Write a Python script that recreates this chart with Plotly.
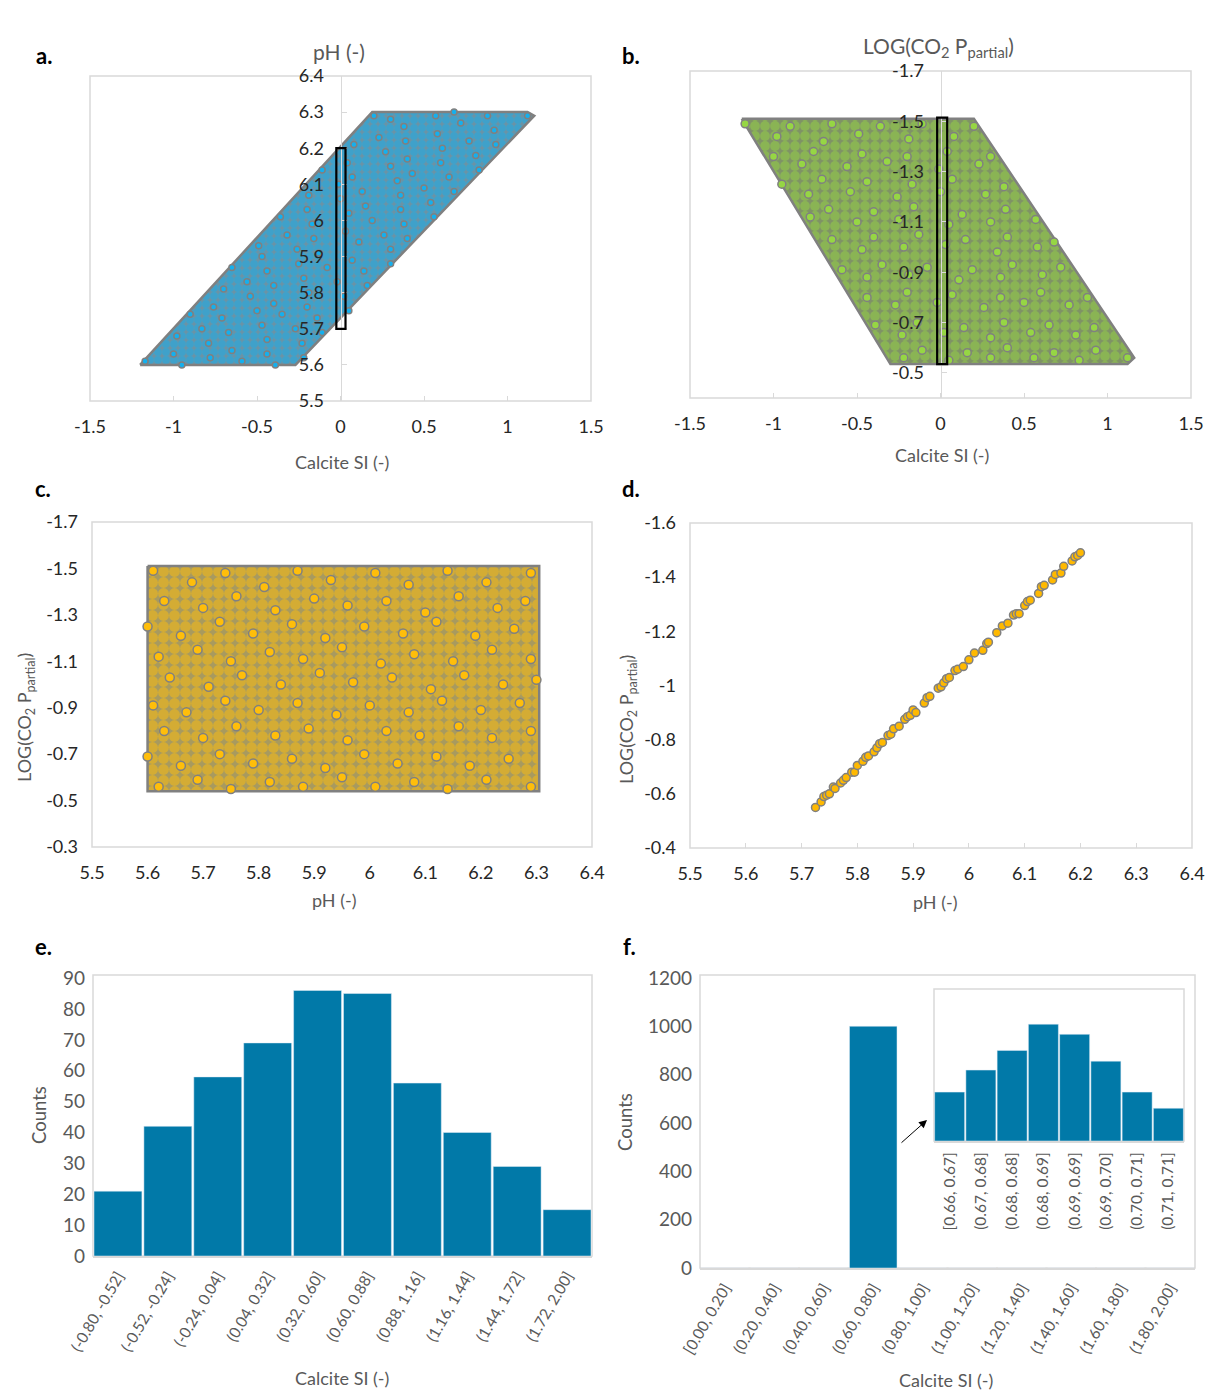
import plotly.graph_objects as go

W, H = 1215, 1393
FONT = "Lato"
DARK = "#262626"
GRAY = "#595959"
FRAME = "#d9d9d9"
BAR = "#0179a8"
DOT_EDGE = "#808080"

# Shared sample readings (panels a, b, c)
ph_samples = [5.61,5.68,5.74,5.81,5.87,5.93,6.01,6.07,6.14,6.21,6.29,
              5.63,5.70,5.76,5.83,5.90,5.96,6.03,6.10,6.16,6.23,6.28,
              5.60,5.66,5.73,5.79,5.86,5.92,5.99,6.06,6.12,6.19,6.26,
              5.62,5.69,5.75,5.82,5.88,5.95,6.02,6.08,6.15,6.22,6.29,
              5.64,5.71,5.77,5.84,5.91,5.97,6.04,6.11,6.17,6.24,6.30,
              5.61,5.67,5.74,5.80,5.87,5.94,6.00,6.07,6.13,6.20,6.27,
              5.63,5.70,5.76,5.83,5.89,5.96,6.03,6.09,6.16,6.22,6.29,
              5.60,5.66,5.73,5.79,5.86,5.92,5.99,6.05,6.12,6.18,6.25,
              5.62,5.69,5.75,5.82,5.88,5.95,6.01,6.08,6.14,6.21,6.29]
co2_samples = [-1.49,-1.44,-1.48,-1.42,-1.49,-1.45,-1.48,-1.43,-1.49,-1.44,-1.48,
               -1.36,-1.33,-1.38,-1.32,-1.37,-1.34,-1.36,-1.31,-1.38,-1.33,-1.36,
               -1.25,-1.21,-1.27,-1.22,-1.26,-1.20,-1.25,-1.22,-1.27,-1.21,-1.24,
               -1.12,-1.15,-1.10,-1.14,-1.11,-1.16,-1.09,-1.13,-1.10,-1.15,-1.11,
               -1.03,-0.99,-1.04,-1.00,-1.05,-1.01,-1.03,-0.98,-1.04,-1.00,-1.02,
               -0.91,-0.88,-0.93,-0.89,-0.92,-0.87,-0.91,-0.88,-0.93,-0.89,-0.92,
               -0.80,-0.77,-0.82,-0.78,-0.81,-0.76,-0.80,-0.78,-0.82,-0.77,-0.80,
               -0.69,-0.65,-0.70,-0.66,-0.68,-0.64,-0.70,-0.66,-0.69,-0.65,-0.68,
               -0.56,-0.59,-0.55,-0.58,-0.56,-0.60,-0.56,-0.58,-0.55,-0.59,-0.56]
si_samples = [-1.17,-0.98,-0.90,-0.70,-0.65,-0.49,-0.36,-0.19,-0.11,0.08,0.20,
              -1.00,-0.83,-0.76,-0.56,-0.47,-0.32,-0.20,-0.01,0.04,0.23,0.30,
              -0.95,-0.79,-0.71,-0.54,-0.44,-0.26,-0.17,0.00,0.07,0.27,0.38,
              -0.78,-0.67,-0.50,-0.40,-0.25,-0.16,0.05,0.13,0.30,0.39,0.57,
              -0.65,-0.47,-0.40,-0.22,-0.13,0.03,0.15,0.34,0.40,0.58,0.68,
              -0.59,-0.44,-0.35,-0.19,-0.08,0.11,0.19,0.36,0.43,0.61,0.72,
              -0.44,-0.27,-0.20,-0.02,0.07,0.26,0.36,0.50,0.60,0.77,0.88,
              -0.39,-0.23,-0.14,0.02,0.14,0.30,0.38,0.54,0.65,0.81,0.92,
              -0.22,-0.11,0.05,0.16,0.30,0.40,0.56,0.68,0.83,0.93,1.12]

# Outlines of the dense clouds
a_edge_si = [-1.2, -0.27, 1.16, 1.12, 0.19, -1.2]
a_edge_ph = [5.6, 5.6, 6.29, 6.3, 6.3, 5.6]
b_edge_si = [-1.19, 0.2, 1.16, 1.12, -0.3, -1.19]
b_edge_co2 = [-1.51, -1.51, -0.56, -0.535, -0.535, -1.51]
c_edge_ph = [5.6, 6.305, 6.305, 5.6, 5.6]
c_edge_co2 = [-1.51, -1.51, -0.54, -0.54, -1.51]

# Panel d
ph_d = [5.725,5.735,5.74,5.745,5.75,5.757,5.76,5.77,5.775,5.78,5.79,5.795,5.80,5.81,5.815,5.82,
        5.83,5.835,5.84,5.845,5.855,5.86,5.865,5.875,5.885,5.89,5.895,5.90,5.905,5.92,5.925,5.93,
        5.945,5.95,5.955,5.96,5.965,5.975,5.98,5.99,6.00,6.01,6.025,6.032,6.035,
        6.05,6.06,6.07,6.08,6.085,6.09,6.10,6.105,6.11,6.125,6.13,6.135,6.15,6.155,6.165,6.17,
        6.185,6.19,6.195,6.20]
co2_d = [-0.55,-0.57,-0.59,-0.595,-0.60,-0.625,-0.62,-0.64,-0.65,-0.66,-0.68,-0.68,-0.705,-0.72,-0.735,-0.74,
         -0.755,-0.77,-0.785,-0.79,-0.815,-0.82,-0.84,-0.85,-0.875,-0.885,-0.89,-0.91,-0.90,-0.935,-0.955,-0.96,
         -0.99,-0.995,-1.01,-1.025,-1.03,-1.055,-1.06,-1.07,-1.095,-1.12,-1.13,-1.155,-1.16,
         -1.195,-1.22,-1.23,-1.26,-1.265,-1.265,-1.295,-1.31,-1.315,-1.34,-1.365,-1.37,-1.39,-1.41,-1.415,-1.44,
         -1.46,-1.475,-1.48,-1.49]

# Histograms
e_bins = ["(-0.80, -0.52]","(-0.52, -0.24]","(-0.24, 0.04]","(0.04, 0.32]","(0.32, 0.60]",
          "(0.60, 0.88]","(0.88, 1.16]","(1.16, 1.44]","(1.44, 1.72]","(1.72, 2.00]"]
e_counts = [21, 42, 58, 69, 86, 85, 56, 40, 29, 15]
f_bins = ["[0.00, 0.20]","(0.20, 0.40]","(0.40, 0.60]","(0.60, 0.80]","(0.80, 1.00]",
          "(1.00, 1.20]","(1.20, 1.40]","(1.40, 1.60]","(1.60, 1.80]","(1.80, 2.00]"]
f_counts = [0, 0, 0, 1000, 0, 0, 0, 0, 0, 0]
inset_bins = ["[0.66, 0.67]","(0.67, 0.68]","(0.68, 0.68]","(0.68, 0.69]",
              "(0.69, 0.69]","(0.69, 0.70]","(0.70, 0.71]","(0.71, 0.71]"]
inset_counts = [82, 119, 152, 196, 179, 134, 82, 55]

si_ticks = [-1.5, -1, -0.5, 0, 0.5, 1, 1.5]
ph_ticks = [5.5, 5.6, 5.7, 5.8, 5.9, 6, 6.1, 6.2, 6.3, 6.4]
co2_ticks = [-1.7, -1.5, -1.3, -1.1, -0.9, -0.7, -0.5]
co2_ticks_c = [-1.7, -1.5, -1.3, -1.1, -0.9, -0.7, -0.5, -0.3]
co2_ticks_d = [-1.6, -1.4, -1.2, -1, -0.8, -0.6, -0.4]
e_ticks = [0, 10, 20, 30, 40, 50, 60, 70, 80, 90]
f_ticks = [0, 200, 400, 600, 800, 1000, 1200]


def px(x):
    return x / W


def py(y):
    return 1 - y / H


fig = go.Figure()
layout = {}
shapes = []
annots = []


def axes(n, box, xcfg, ycfg):
    x0, y0, x1, y1 = box
    sx = "" if n == 1 else str(n)
    base = dict(showgrid=False, zeroline=False, color=GRAY)
    layout["xaxis" + sx] = {**base, "domain": [px(x0), px(x1)], "anchor": "y" + sx, **xcfg}
    layout["yaxis" + sx] = {**base, "domain": [py(y1), py(y0)], "anchor": "x" + sx, **ycfg}
    shapes.append(dict(type="rect", xref=f"x{sx} domain", yref=f"y{sx} domain",
                       x0=0, x1=1, y0=0, y1=1, line=dict(color=FRAME, width=1.5), layer="below"))


def num_axis(vals, rng, color=DARK, size=18, standoff=13, **kw):
    d = dict(range=rng, tickmode="array", tickvals=vals, ticktext=[str(v) for v in vals],
             tickfont=dict(family=FONT, size=size, color=color), ticklabelstandoff=standoff,
             ticks="inside", ticklen=5, tickcolor=FRAME, tickwidth=1)
    d.update(kw)
    return d


def text(x, y, s, size=16, color=GRAY, angle=0, bold=False, anchor="center"):
    annots.append(dict(x=px(x), y=py(y), xref="paper", yref="paper", text=f"<b>{s}</b>" if bold else s,
                       showarrow=False, textangle=angle, xanchor=anchor, yanchor="middle",
                       font=dict(family=FONT, size=size, color=color)))


def cloud(n, xs, ys, fg, bg, spacing, solid):
    sx = "" if n == 1 else str(n)
    fig.add_trace(go.Scatter(x=xs, y=ys, mode="lines", fill="toself", xaxis="x" + sx, yaxis="y" + sx,
                             line=dict(color=DOT_EDGE, width=2.5), fillcolor=bg, hoverinfo="skip",
                             fillpattern=dict(shape=".", fgcolor=fg, bgcolor=bg, size=spacing, solidity=solid),
                             showlegend=False))


def dots(n, xs, ys, fill, size):
    sx = "" if n == 1 else str(n)
    fig.add_trace(go.Scatter(x=xs, y=ys, mode="markers", xaxis="x" + sx, yaxis="y" + sx, showlegend=False,
                             marker=dict(color=fill, size=size, line=dict(color=DOT_EDGE, width=1.5))))


def bars(n, xs, ys):
    sx = "" if n == 1 else str(n)
    fig.add_trace(go.Bar(x=xs, y=ys, xaxis="x" + sx, yaxis="y" + sx, marker_color=BAR, showlegend=False))


BLUE, GREEN, ORANGE = "#14b0ee", "#96d644", "#ffbe0a"
PANEL = {"a": (90, 76, 591, 401), "b": (690, 71, 1191, 398), "c": (92, 522, 592, 847),
         "d": (690, 523, 1192, 848), "e": (93, 975, 592, 1256), "f": (700, 975, 1195, 1268),
         "i": (934, 989, 1184, 1141)}
mid_a = (PANEL["a"][0] + PANEL["a"][2]) / 2
mid_b = (PANEL["b"][0] + PANEL["b"][2]) / 2

# a
axes(1, PANEL["a"], num_axis(si_ticks, [-1.5, 1.5]),
     num_axis(ph_ticks, [5.5, 6.4], anchor="free", position=px(mid_a), showline=True, linecolor=FRAME, linewidth=1))
cloud(1, a_edge_si, a_edge_ph, BLUE, "#6a93a6", 8, 0.75)
dots(1, si_samples, ph_samples, BLUE, 6)
# b
axes(2, PANEL["b"], num_axis(si_ticks, [-1.5, 1.5]),
     num_axis(co2_ticks, [-0.4, -1.7], anchor="free", position=px(mid_b), showline=True, linecolor=FRAME, linewidth=1))
cloud(2, b_edge_si, b_edge_co2, GREEN, "#7f9365", 10, 0.75)
dots(2, si_samples, co2_samples, GREEN, 8)
# c
axes(3, PANEL["c"], num_axis(ph_ticks, [5.5, 6.4], ticks=""), num_axis(co2_ticks_c, [-0.3, -1.7], ticks=""))
cloud(3, c_edge_ph, c_edge_co2, ORANGE, "#a89a5e", 11, 0.76)
dots(3, ph_samples, co2_samples, ORANGE, 9)
# d
axes(4, PANEL["d"], num_axis(ph_ticks, [5.5, 6.4]), num_axis(co2_ticks_d, [-0.4, -1.6], ticks=""))
dots(4, ph_d, co2_d, "#ffb900", 8)
# e
cat = dict(tickangle=-60, tickfont=dict(family=FONT, size=15.5, color=GRAY), ticks="", type="category",
           ticklabelstandoff=3, showline=True, linecolor=FRAME, linewidth=2)
axes(5, PANEL["e"], dict(cat), num_axis(e_ticks, [0, 91], color=GRAY, size=19, standoff=7, ticks=""))
bars(5, e_bins, e_counts)
# f
axes(6, PANEL["f"], dict(cat), num_axis(f_ticks, [0, 1212], color=GRAY, size=19, standoff=7, ticks=""))
bars(6, f_bins, f_counts)
# inset
axes(7, PANEL["i"], dict(cat, tickangle=-90, ticklabelstandoff=3, tickfont=dict(family=FONT, size=15.5, color=GRAY)),
     dict(range=[0, 255], showticklabels=False, ticks=""))
bars(7, inset_bins, inset_counts)

# Highlight boxes
for xref, yref, box in [("x", "y", (-0.025, 0.03, 5.7, 6.2)), ("x2", "y2", (-0.02, 0.04, -0.535, -1.515))]:
    shapes.append(dict(type="rect", xref=xref, yref=yref, x0=box[0], x1=box[1], y0=box[2], y1=box[3],
                       line=dict(color="black", width=2.2), layer="above"))

# Texts
for lab, x, y in [("a.", 34, 55), ("b.", 620, 55), ("c.", 33, 488), ("d.", 620, 488), ("e.", 33, 946), ("f.", 621, 946)]:
    text(x, y, lab, size=22, color="black", bold=True, anchor="left")
text(339, 51, "pH (-)", size=21)
text(938, 47, "LOG(CO<sub>2</sub> P<sub>partial</sub>)", size=21)
for x, y, s in [(342, 462, "Calcite SI (-)"), (942, 455, "Calcite SI (-)"), (334, 900, "pH (-)"),
                (935, 902, "pH (-)"), (342, 1378, "Calcite SI (-)"), (946, 1380, "Calcite SI (-)")]:
    text(x, y, s, size=18)
co2_title = "LOG(CO<sub>2</sub> P<sub>partial</sub>)"
text(25, 718, co2_title, size=18, angle=-90)
text(627, 720, co2_title, size=18, angle=-90)
text(39, 1115, "Counts", size=18.5, angle=-90)
text(625, 1122, "Counts", size=18.5, angle=-90)
annots.append(dict(x=px(927), y=py(1120), xref="paper", yref="paper", ax=-27, ay=24, axref="pixel", ayref="pixel",
                   text="", showarrow=True, arrowhead=2, arrowsize=1.6, arrowwidth=1, arrowcolor="black"))

fig.update_layout(width=W, height=H, margin=dict(l=0, r=0, t=0, b=0, pad=0, autoexpand=False), paper_bgcolor="white",
                  plot_bgcolor="rgba(0,0,0,0)", bargap=0.04, showlegend=False,
                  shapes=shapes, annotations=annots, font=dict(family=FONT), **layout)
fig.write_html("out.html", config={"displayModeBar": False}, post_script="document.body.style.margin='0';")
